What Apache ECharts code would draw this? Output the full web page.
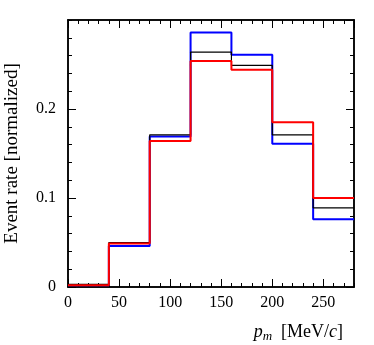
<!DOCTYPE html>
<html>
<head>
<meta charset="utf-8">
<script src="https://cdn.jsdelivr.net/npm/echarts@6/dist/echarts.min.js"></script>
<style>
  html, body { margin: 0; padding: 0; background: #fff; }
  #chart { width: 374px; height: 345px; }
</style>
</head>
<body>
<div id="chart"></div>
<script>
// bin edges in MeV/c, last edge closes the histogram
var binEdges = [0, 40, 80, 120, 160, 200, 240, 280];
// normalized event rates per bin
var blueRate  = [0.002, 0.046, 0.169, 0.286, 0.261, 0.161, 0.076];
var blackRate = [0.003, 0.050, 0.171, 0.264, 0.249, 0.171, 0.089];
var redRate   = [0.002, 0.049, 0.164, 0.254, 0.244, 0.185, 0.100];

var FONT = 'Liberation Serif';

// histogram as step line: one point per left edge, plus the closing edge
function stepData(vals) {
  var d = vals.map(function (v, i) { return [binEdges[i], v]; });
  d.push([binEdges[binEdges.length - 1], vals[vals.length - 1]]);
  return d;
}

function histSeries(vals, color, width) {
  return {
    type: 'line',
    step: 'end',
    data: stepData(vals),
    symbol: 'none',
    xAxisIndex: 0,
    yAxisIndex: 0,
    lineStyle: { color: color, width: width },
    animation: false
  };
}

function xAx(pos, interval, len, labels) {
  return {
    type: 'value', position: pos, min: 0, max: 280, interval: interval,
    axisLine: { show: true, onZero: false, lineStyle: { color: '#000', width: 1.5 } },
    axisTick: { show: true, inside: true, length: len, lineStyle: { color: '#000', width: 1 } },
    axisLabel: { show: labels, showMaxLabel: false, margin: 8, color: '#000', fontFamily: FONT, fontSize: 16 },
    splitLine: { show: false }
  };
}
function yAx(pos, interval, len, labels) {
  return {
    type: 'value', position: pos, min: 0, max: 0.3, interval: interval,
    axisLine: { show: true, onZero: false, lineStyle: { color: '#000', width: 1.5 } },
    axisTick: { show: true, inside: true, length: len, lineStyle: { color: '#000', width: 1 } },
    axisLabel: { show: labels, showMaxLabel: false, margin: 12, color: '#000', fontFamily: FONT, fontSize: 16 },
    splitLine: { show: false }
  };
}

var yMain = yAx('left', 0.1, 8, true);
yMain.name = 'Event rate [normalized]';
yMain.nameLocation = 'middle';
yMain.nameGap = 46;
yMain.nameTextStyle = { color: '#000', fontFamily: FONT, fontSize: 19 };

var chart = echarts.init(document.getElementById('chart'));
chart.setOption({
  backgroundColor: '#fff',
  animation: false,
  grid: { left: 68, right: 20, top: 20, bottom: 58, outerBoundsMode: 'none' },
  title: {
    text: '{i|p}{s|m}  [MeV/{i|c}]',
    right: 26, top: 317,
    textStyle: {
      color: '#000', fontFamily: FONT, fontSize: 18, fontWeight: 'normal',
      rich: {
        i: { fontFamily: FONT, fontStyle: 'italic', fontSize: 18, color: '#000' },
        s: { fontFamily: FONT, fontStyle: 'italic', fontSize: 13, color: '#000', padding: [8, 0, 0, 0] }
      }
    }
  },
  xAxis: [
    xAx('bottom', 50, 8, true),
    xAx('bottom', 10, 4, false),
    xAx('top', 50, 8, false),
    xAx('top', 10, 4, false)
  ],
  yAxis: [
    yMain,
    yAx('left', 0.02, 4, false),
    yAx('right', 0.1, 8, false),
    yAx('right', 0.02, 4, false)
  ],
  series: [
    histSeries(blueRate, '#0000ff', 2),
    histSeries(blackRate, '#000000', 1.2),
    histSeries(redRate, '#ff0000', 2)
  ]
});
</script>
</body>
</html>
